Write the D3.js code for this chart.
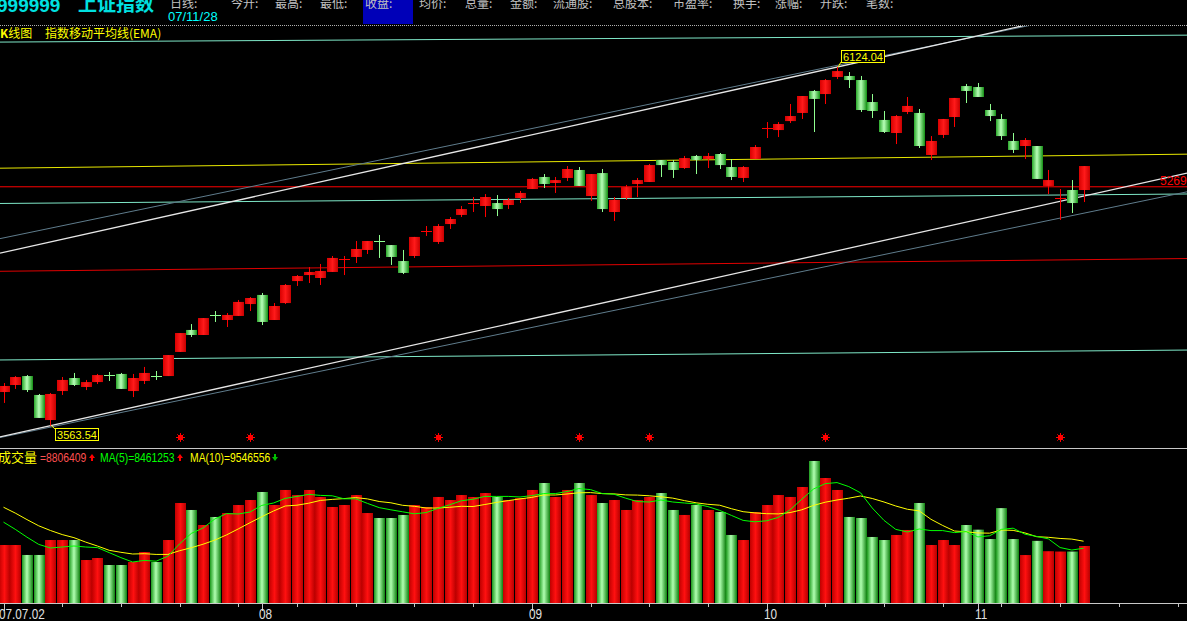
<!DOCTYPE html>
<html><head><meta charset="utf-8">
<script src="https://cdn.jsdelivr.net/npm/d3@7"></script>
<style>
html,body{margin:0;padding:0;background:#000;overflow:hidden}
svg{display:block}
</style></head><body>
<svg id="chart" width="1187" height="621"></svg>
<script>
// 上证指数 daily K-line, 2007-07-02 onward
const opens = [3804,3854,3918,3783,3604,3811,3904,3840,3875,3925,3933,3811,3883,3918,3918,4090,4247,4211,4354,4318,4347,4432,4497,4318,4439,4596,4639,4618,4661,4753,4768,4818,4882,4853,4739,4775,4953,4875,5003,5068,5153,5132,5153,5139,5189,5253,5339,5296,5332,5389,5203,5367,5089,5189,5289,5303,5460,5446,5403,5489,5467,5503,5410,5332,5467,5688,5674,5738,5796,5953,5931,6053,6060,6031,5874,5746,5653,5803,5796,5496,5639,5767,5988,5981,5817,5753,5596,5560,5560,5275,5189,5246,5246];
const highs = [3868,3918,3925,3790,3797,3911,3940,3890,3933,3947,3940,3933,3983,3954,4068,4225,4289,4332,4382,4368,4461,4482,4511,4439,4575,4639,4696,4718,4775,4775,4882,4882,4925,4853,4818,4911,4989,5003,5053,5132,5196,5217,5210,5189,5239,5332,5360,5339,5417,5410,5360,5396,5196,5282,5332,5432,5460,5460,5489,5496,5510,5510,5467,5417,5567,5731,5731,5860,5917,5960,6038,6124.04,6088,6060,5931,5810,5781,5910,5824,5631,5753,5903,6003,6010,5860,5788,5653,5617,5560,5389,5253,5317,5417];
const lows = [3726,3826,3804,3619,3563.54,3783,3847,3818,3861,3883,3826,3768,3861,3890,3918,4090,4197,4211,4304,4268,4347,4382,4282,4318,4432,4561,4582,4568,4661,4639,4725,4789,4761,4711,4646,4761,4918,4861,4968,5053,5089,5053,5060,5110,5153,5253,5260,5225,5310,5275,5168,5089,5025,5175,5196,5303,5339,5332,5396,5360,5403,5396,5317,5303,5467,5617,5624,5724,5753,5660,5860,6038,5974,5803,5760,5653,5574,5788,5546,5460,5617,5696,5867,5910,5738,5603,5510,5467,5325,5217,5032,5082,5160];
const closes = [3847,3911,3818,3619,3790,3890,3854,3875,3925,3924,3826,3904,3940,3917,4068,4225,4211,4332,4353,4354,4447,4475,4304,4418,4568,4632,4661,4668,4761,4754,4825,4882,4881,4768,4654,4911,4954,4989,5039,5110,5154,5196,5110,5175,5225,5325,5289,5317,5396,5275,5360,5110,5175,5267,5317,5424,5424,5389,5474,5460,5489,5424,5339,5410,5553,5689,5717,5774,5917,5896,6031,6095,6031,5817,5810,5660,5774,5846,5560,5596,5753,5903,5953,5910,5774,5631,5532,5603,5325,5317,5190,5153,5417];
// 成交量 (手)
const volumes = [8960000,8960000,7420000,7420000,9730000,9730000,9730000,6640000,6950000,5870000,5870000,6330000,7880000,6330000,9730000,15450000,14370000,12050000,13290000,13900000,15140000,15910000,17150000,15140000,17460000,16680000,17460000,16380000,14830000,15140000,16680000,13900000,13130000,13130000,13600000,15140000,14830000,16380000,15910000,16680000,16380000,16990000,16380000,15910000,16220000,17460000,18540000,16380000,17460000,18540000,16680000,15450000,15910000,14370000,15910000,16380000,16990000,14370000,13600000,15140000,14370000,14060000,10510000,9730000,14060000,15140000,16680000,16380000,17920000,21940000,19310000,17460000,13290000,13130000,10200000,9730000,10510000,11280000,15450000,8960000,9730000,8960000,12050000,11330000,9880000,14660000,9880000,7409295,9600000,8000000,7950000,7949856,8806409];
// sessions before the first bar, used to seed the moving averages
const priorVolumes = [18000000,17500000,17000000,17000000,16000000,14500000,13500000,13000000,12500000];

const tickIndex = [0,22,45,65,83];
const tickLabels = ["07.07.02","08","09","10","11"];
const starIndex = [15,21,37,49,55,70,90];

// drawn trend lines: [[barIndex, price],[barIndex, price]]
const whiteLow  = [[0,3489],[100,5352]];
const whiteHigh = [[0,4801],[100,6664]];
const grayLow   = [[0,3484],[100,5219]];
const grayHigh  = [[0,4904],[100,6639]];
const yellowLine= [[0,5402],[100,5501]];
const redTop    = [[0,5269],[100,5269]];
const redLow    = [[0,4666],[100,4756]];
const cyanTop   = [[0,6302],[100,6351]];
const cyanMid   = [[0,5150],[100,5217]];
const cyanLow   = [[0,4033],[100,4103]];

const headerItems = ["日线:","今开:","最高:","最低:","收盘:","均价:","总量:","金额:","流通股:","总股本:","市盈率:","换手:","涨幅:","开跌:","笔数:"];
const headerX = [170,231,275,320,365,419,465,510,553,613,673,733,775,820,866];

const W = 1187, H = 621;
const svg = d3.select("#chart");
svg.append("rect").attr("width",W).attr("height",H).attr("fill","#000");

const defs = svg.append("defs");
function hgrad(id, stops){
  const g = defs.append("linearGradient").attr("id",id).attr("x1","0").attr("x2","1").attr("y1","0").attr("y2","0");
  stops.forEach(s=>g.append("stop").attr("offset",s[0]).attr("stop-color",s[1]));
}
hgrad("gGreen", [[0,"#2aa82a"],[0.45,"#b8ffb8"],[1,"#139013"]]);
hgrad("gRed",   [[0,"#d80000"],[0.5,"#ff1a1a"],[1,"#c80000"]]);
hgrad("vGreen", [[0,"#1c9a1c"],[0.45,"#b0ffb0"],[1,"#0e800e"]]);
hgrad("vRed",   [[0,"#c00000"],[0.5,"#ff1010"],[1,"#b80000"]]);

const mainTop = 26, mainBottom = 447;
defs.append("clipPath").attr("id","clipMain").append("rect")
  .attr("x",0).attr("y",mainTop).attr("width",W).attr("height",mainBottom-mainTop);

const x = d3.scaleLinear().domain([0,100]).range([3.5,1177.5]);
const y = d3.scaleLinear().domain([3563.54,6124.04]).range([425.7,67]);
const yv = d3.scaleLinear().domain([0,10000000]).range([603,603-64.73]);

const n = closes.length;
const bars = d3.range(n).map(i=>({i,o:opens[i],h:highs[i],l:lows[i],c:closes[i],v:volumes[i],up:closes[i]>=opens[i]}));

// condensed text: horizontal squeeze around the anchor point
function narrowText(sel, tx, ty, sx){
  return sel.append("text").attr("transform",`translate(${tx},${ty}) scale(${sx},1)`);
}

// ---------- header ----------
svg.append("text").attr("x",-3).attr("y",12).attr("fill","#00e0e0")
  .attr("font-family","Liberation Sans, Arial, sans-serif").attr("font-weight","bold").attr("font-size",19)
  .text("999999");
svg.append("text").attr("x",78).attr("y",11).attr("fill","#00e0e0")
  .attr("font-family","Noto Sans CJK SC, sans-serif").attr("font-weight","bold").attr("font-size",19)
  .text("上证指数");
svg.append("rect").attr("x",363).attr("y",0).attr("width",50).attr("height",24).attr("fill","#0000b8");
svg.append("g").selectAll("text").data(headerItems).join("text")
  .attr("x",(d,i)=>headerX[i]).attr("y",8).attr("fill","#c0c0c0")
  .attr("font-family","Noto Sans CJK SC, sans-serif").attr("font-size",12).text(d=>d);
svg.append("text").attr("x",168).attr("y",21).attr("fill","#00ffff")
  .attr("font-family","Liberation Sans, Arial, sans-serif").attr("font-size",13).text("07/11/28");
svg.append("line").attr("x1",0).attr("x2",W).attr("y1",25.5).attr("y2",25.5)
  .attr("stroke","#b0b0b0").attr("stroke-dasharray","1,1");
svg.append("text").attr("x",0).attr("y",38).attr("fill","#ffff00")
  .attr("font-family","Noto Sans CJK SC, sans-serif").attr("font-size",12)
  .html('<tspan font-weight="bold">K</tspan>线图');
svg.append("text").attr("x",45).attr("y",38).attr("fill","#ffff00")
  .attr("font-family","Noto Sans CJK SC, sans-serif").attr("font-size",12).text("指数移动平均线(EMA)");

// ---------- trend lines ----------
const gMain = svg.append("g").attr("clip-path","url(#clipMain)");
function drawTrend(pts, color, width){
  const [[i0,p0],[i1,p1]] = pts;
  const xs = [x.invert(0), x.invert(W)];
  const pr = xs.map(t=>p0+(p1-p0)*(t-i0)/(i1-i0));
  gMain.append("line").attr("x1",0).attr("x2",W).attr("y1",y(pr[0])).attr("y2",y(pr[1]))
    .attr("stroke",color).attr("stroke-width",width||1);
}
drawTrend(cyanTop,"#7fe8c8");
drawTrend(cyanMid,"#7fe8c8");
drawTrend(cyanLow,"#7fe8c8");
drawTrend(yellowLine,"#e8e800");
drawTrend(redTop,"#ff0000");
drawTrend(redLow,"#e00000");
drawTrend(grayHigh,"#5f7c8c");
drawTrend(grayLow,"#5f7c8c");
drawTrend(whiteHigh,"#e6e6e6",1.3);
drawTrend(whiteLow,"#e6e6e6",1.3);

// ---------- candles ----------
const bw = 10;
const gC = gMain.append("g");
const cg = gC.selectAll("g").data(bars).join("g");
cg.append("line")
  .attr("x1",d=>Math.round(x(d.i))+0.5).attr("x2",d=>Math.round(x(d.i))+0.5)
  .attr("y1",d=>y(d.h)).attr("y2",d=>y(d.l))
  .attr("stroke",d=>d.up?"#ff0000":"#90ff90").attr("stroke-width",1);
cg.each(function(d){
  const g = d3.select(this);
  const cx = Math.round(x(d.i));
  const top = y(Math.max(d.o,d.c)), bot = y(Math.min(d.o,d.c));
  if (bot-top < 1.5){
    g.append("line").attr("x1",cx-5).attr("x2",cx+6).attr("y1",Math.round(top)+0.5).attr("y2",Math.round(top)+0.5)
      .attr("stroke",d.up?"#ff0000":"#90ff90");
  } else {
    g.append("rect").attr("x",cx-5).attr("y",top).attr("width",bw+1).attr("height",bot-top)
      .attr("fill",d.up?"url(#gRed)":"url(#gGreen)");
  }
});

// signal stars under the candles
const starG = gMain.append("g").selectAll("g").data(starIndex).join("g")
  .attr("transform",d=>`translate(${Math.round(x(d))+0.5},437.5)`);
starG.append("path")
  .attr("d","M-4.5,0H4.5M0,-4.5V4.5M-3.2,-3.2L3.2,3.2M-3.2,3.2L3.2,-3.2")
  .attr("stroke","#ff0000").attr("stroke-width",1);
starG.append("rect").attr("x",-2.5).attr("y",-2.5).attr("width",5).attr("height",5).attr("fill","#ff0000");

// extreme labels
function priceTag(i, price, bx, by, bwid){
  const g = svg.append("g");
  g.append("line").attr("x1",x(i)+1).attr("y1",y(price)).attr("x2",bx).attr("y2",by+ (by>y(price)?1:12))
    .attr("stroke","#ffff00");
  g.append("rect").attr("x",bx+0.5).attr("y",by+0.5).attr("width",bwid).attr("height",12)
    .attr("fill","#000").attr("stroke","#ffff00");
  g.append("text").attr("x",bx+bwid/2+0.5).attr("y",by+11).attr("text-anchor","middle")
    .attr("fill","#ffff00").attr("font-family","Liberation Sans, Arial, sans-serif").attr("font-size",11)
    .text(d3.format(".2f")(price));
}
const hiIdx = d3.maxIndex(highs), loIdx = d3.minIndex(lows);
priceTag(hiIdx, highs[hiIdx], 841, 50, 43);
priceTag(loIdx, lows[loIdx], 55, 428, 43);

svg.append("text").attr("x",1160).attr("y",y(redTop[0][1])-2).attr("fill","#ff0000")
  .attr("font-family","Liberation Sans, Arial, sans-serif").attr("font-size",12).text("5269.00");

// ---------- volume panel ----------
svg.append("line").attr("x1",0).attr("x2",W).attr("y1",448.5).attr("y2",448.5).attr("stroke","#c8c8c8");
const gV = svg.append("g");
gV.selectAll("rect").data(bars).join("rect")
  .attr("x",d=>Math.round(x(d.i))-5).attr("width",bw+1)
  .attr("y",d=>yv(d.v)).attr("height",d=>603-yv(d.v))
  .attr("fill",d=>d.up?"url(#vRed)":"url(#vGreen)");

const allVol = priorVolumes.concat(volumes);
const off = priorVolumes.length;
function ma(k){
  return volumes.map((v,i)=>{
    const j = i+off;
    return d3.mean(allVol.slice(Math.max(0,j-k+1), j+1));
  });
}
const ma5 = ma(5), ma10 = ma(10);
const lineGen = d3.line().x((d,i)=>x(i)).y(d=>yv(d));
gV.append("path").attr("d",lineGen(ma10)).attr("fill","none").attr("stroke","#ffff00").attr("stroke-width",1);
gV.append("path").attr("d",lineGen(ma5)).attr("fill","none").attr("stroke","#00ff00").attr("stroke-width",1);

// legend
const fmt = d3.format("d");
const leg = svg.append("g").attr("font-family","Liberation Sans, Arial, sans-serif").attr("font-size",12.5);
leg.append("text").attr("x",-2).attr("y",462).attr("fill","#ffff00")
  .attr("font-family","Noto Sans CJK SC, sans-serif").attr("font-size",13).text("成交量");
narrowText(leg,40,462,0.83).attr("fill","#ff5050").text("="+fmt(volumes[n-1]));
narrowText(leg,100,462,0.83).attr("fill","#00ff00").text("MA(5)="+fmt(Math.round(ma5[n-1])));
narrowText(leg,190,462,0.83).attr("fill","#ffff00").text("MA(10)="+fmt(Math.round(ma10[n-1])));
function arrow(ax, up, color){
  const p = up ? `M${ax},458 l3,-4 l3,4 h-2 v3 h-2 v-3 z` : `M${ax},457 l3,4 l3,-4 h-2 v-3 h-2 v3 z`;
  leg.append("path").attr("d",p).attr("fill",color);
}
arrow(89, volumes[n-1]>=volumes[n-2], "#ff0000");
arrow(177, ma5[n-1]>=ma5[n-2], "#ff0000");
arrow(272, ma10[n-1]>=ma10[n-2], "#00c000");

// ---------- x axis ----------
svg.append("line").attr("x1",0).attr("x2",W).attr("y1",603.5).attr("y2",603.5).attr("stroke","#c8c8c8");
const minor = d3.range(0,101,5);
svg.append("g").selectAll("line").data(minor).join("line")
  .attr("x1",d=>Math.round(x(d))+0.5).attr("x2",d=>Math.round(x(d))+0.5)
  .attr("y1",604).attr("y2",607).attr("stroke","#c8c8c8");
const ax = svg.append("g");
ax.selectAll("line").data(tickIndex).join("line")
  .attr("x1",d=>Math.round(x(d))+0.5).attr("x2",d=>Math.round(x(d))+0.5)
  .attr("y1",604).attr("y2",611).attr("stroke","#c8c8c8");
tickIndex.forEach((d,i)=>{
  narrowText(ax, i===0?-1:Math.round(x(d))-3, 619, 0.84)
    .attr("fill","#e0e0e0").attr("font-family","Liberation Sans, Arial, sans-serif")
    .attr("font-size",14).text(tickLabels[i]);
});
</script>
</body></html>
